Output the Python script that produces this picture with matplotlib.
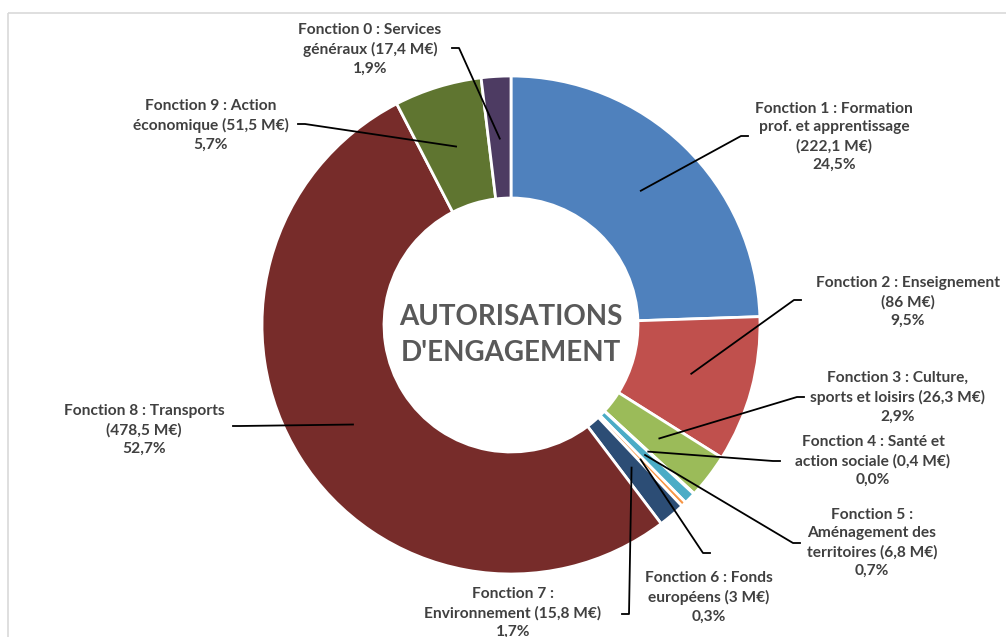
import numpy as np
import matplotlib.pyplot as plt
from matplotlib.patches import Rectangle

plt.rcParams["font.family"] = ["Lato", "DejaVu Sans"]

# data, in clockwise order starting at 12 o'clock
labels = [
    "Fonction 1 : Formation\nprof. et apprentissage\n(222,1 M€)\n24,5%",
    "Fonction 2 : Enseignement\n(86 M€)\n9,5%",
    "Fonction 3 : Culture,\nsports et loisirs (26,3 M€)\n2,9%",
    "Fonction 4 : Santé et\naction sociale (0,4 M€)\n0,0%",
    "Fonction 5 :\nAménagement des\nterritoires (6,8 M€)\n0,7%",
    "Fonction 6 : Fonds\neuropéens (3 M€)\n0,3%",
    "Fonction 7 :\nEnvironnement (15,8 M€)\n1,7%",
    "Fonction 8 : Transports\n(478,5 M€)\n52,7%",
    "Fonction 9 : Action\néconomique (51,5 M€)\n5,7%",
    "Fonction 0 : Services\ngénéraux (17,4 M€)\n1,9%",
]
values = [222.1, 86, 26.3, 0.4, 6.8, 3, 15.8, 478.5, 51.5, 17.4]
colors = ["#4F81BD", "#C0504D", "#9BBB59", "#8064A2", "#4BACC6",
          "#F79646", "#2C4D75", "#772C2A", "#5F7530", "#4D3B62"]

# label block centre (pixels from top-left) and leader start point
label_pos = [(834, 137), (908, 302), (898, 397), (873, 461), (872, 543),
             (709, 597), (513, 613), (144, 430), (211, 125), (370, 49)]
leader_start = [(748, 136), (801, 300), (804, 397), (780, 461), (800, 543),
                (710, 553), (622, 614), (233, 426), (298, 124), (452, 48)]

W, H = 1006, 637
fig = plt.figure(figsize=(W / 100, H / 100), dpi=100)
ax = fig.add_axes([0, 0, 1, 1])

cx, cy, R = 511, 325, 249
# y axis is flipped below, so counterclock here draws clockwise on screen
wedges, _ = ax.pie(values, colors=colors, startangle=-90, counterclock=True,
                   radius=R, center=(cx, cy), frame=True,
                   wedgeprops=dict(width=R * 0.49, edgecolor="white", linewidth=2))
ax.set_xlim(0, W)
ax.set_ylim(H, 0)
ax.set_aspect("equal")
ax.axis("off")

# chart frame
ax.add_patch(Rectangle((8, 13), 1100, 700, fill=False, edgecolor="#d9d9d9", lw=1.2))

text_color = "#404040"
total = sum(values)
cum = 0
for lab, v, pos, st in zip(labels, values, label_pos, leader_start):
    mid = (cum + v / 2) / total * 2 * np.pi
    cum += v
    px = cx + 0.75 * R * np.sin(mid)
    py = cy - 0.75 * R * np.cos(mid)
    dx = 7 if st[0] < px else -7
    ax.plot([st[0], st[0] + dx, px], [st[1], st[1], py], color="black", lw=1.3)
    ax.text(pos[0], pos[1], lab, ha="center", va="center", fontsize=11.2,
            fontweight="bold", color=text_color, linespacing=1.42)

ax.text(cx, 335, "AUTORISATIONS\nD'ENGAGEMENT", ha="center", va="center",
        fontsize=20, fontweight="bold", color="#595959", linespacing=1.5)

fig.savefig("out.png", dpi=100)
